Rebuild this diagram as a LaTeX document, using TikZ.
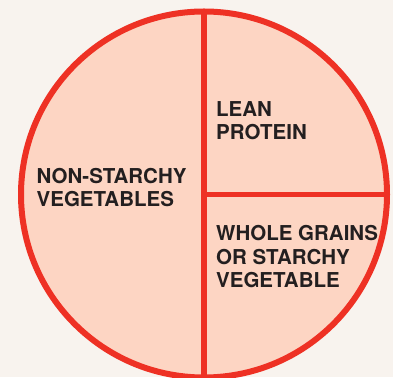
\documentclass[tikz,border=0pt]{standalone}
\usepackage{fontspec}
\setmainfont{TeX Gyre Heros}
\usepackage{tikz}
\usetikzlibrary{calc,positioning}

\definecolor{paper}{HTML}{F8F3EE}
\definecolor{platefill}{HTML}{FDD5C3}
\definecolor{platered}{HTML}{EE3124}
\definecolor{ink}{HTML}{231F20}

\tikzset{
	divider/.style={draw=platered, line width=5.5pt},
	portion/.style={anchor=base west, inner sep=0, align=left, text=ink, font=\fontsize{20.5}{23.5}\selectfont\bfseries}
}

\begin{document}
\begin{tikzpicture}[x=1pt, y=1pt]
		\clip (0,0) rectangle (393,377);
		\fill[paper] (0,0) rectangle (393,377);
		\node[circle, fill=platefill, minimum size=366pt, inner sep=0, outer sep=0] (plate) at (204,182.5) {};
		
		\draw[divider] (plate.north) -- (plate.south);
		\draw[divider] (plate.center) -- (plate.east);
		\node[circle, draw=platered, line width=6pt, minimum size=366pt, inner sep=0] (rim) at (plate.center) {};
		
		% base anchor sits on the last line
		\node[portion] (veg) at (36.5,170.3) {NON-STARCHY\\VEGETABLES};
		\node[portion] (protein) at (216,237) {LEAN\\PROTEIN};
		\node[portion] (grains) at (216,89.3) {WHOLE GRAINS\\OR STARCHY\\VEGETABLE};
	\end{tikzpicture}
\end{document}
